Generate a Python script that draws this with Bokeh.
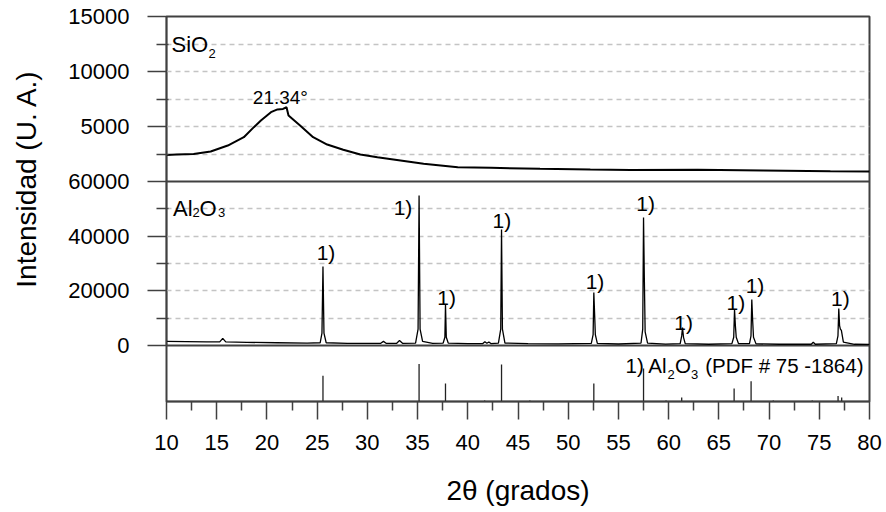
from bokeh.plotting import figure
from bokeh.layouts import row
from bokeh.models import Range1d, FixedTicker, Label
from bokeh.core.properties import value
from bokeh.embed import file_html
from bokeh.resources import INLINE

# ---------------- data ----------------
# SiO2 amorphous pattern (2theta, counts)
si_x = [10.0, 11.0, 12.7, 14.4, 16.1, 17.7, 18.7, 19.4, 20.4, 21.05, 21.6, 21.95,
        22.15, 23.3, 24.6, 26.0, 27.6, 29.3, 31.0, 33.3, 35.6, 39.0, 42.3, 47.2,
        52.2, 56.2, 62.9, 69.4, 76.1, 80.0]
si_y = [2400, 2450, 2500, 2730, 3270, 4030, 4940, 5550, 6300, 6550, 6600, 6750,
        6000, 5090, 4030, 3360, 2880, 2450, 2210, 1910, 1610, 1300, 1240, 1150,
        1090, 1050, 1060, 1000, 930, 910]

# Al2O3 crystalline pattern (2theta, counts)
al_x = [10.0, 12.0, 14.0, 15.3, 15.6, 15.9, 18.0, 21.0, 24.0,
        25.3, 25.48, 25.58, 25.68, 25.9, 28.0,
        31.3, 31.6, 31.9, 32.9, 33.2, 33.5,
        34.8, 35.05, 35.15, 35.25, 35.5, 36.5,
        37.55, 37.72, 37.78, 37.86, 38.05, 40.0,
        41.5, 41.7, 41.9, 42.1, 42.3,
        43.05, 43.28, 43.36, 43.45, 43.7, 46.0, 49.0,
        52.3, 52.48, 52.55, 52.64, 52.7, 52.9, 55.0,
        57.25, 57.42, 57.5, 57.58, 57.66, 57.9, 59.7,
        61.15, 61.3, 61.38, 61.48, 61.65, 64.0,
        66.3, 66.48, 66.56, 66.65, 66.73, 66.95,
        68.05, 68.2, 68.28, 68.37, 68.45, 68.7, 71.0,
        74.2, 74.4, 74.6,
        76.7, 76.86, 76.94, 77.02, 77.1, 77.2, 77.4, 78.5, 80.0]
al_y = [1500, 1400, 1300, 1300, 2600, 1300, 1150, 1000, 900,
        1000, 4500, 28900, 4500, 1000, 800,
        750, 1500, 750, 750, 1800, 800,
        900, 6000, 54900, 6000, 1500, 800,
        900, 3000, 15000, 3000, 900, 700,
        700, 1400, 800, 1300, 700,
        900, 6000, 42400, 6000, 900, 650, 600,
        800, 4000, 19400, 10400, 4000, 800, 550,
        900, 6000, 46800, 24500, 5000, 900, 500,
        700, 3500, 6600, 3000, 700, 450,
        700, 3000, 13200, 7000, 3000, 700,
        700, 3500, 16800, 8800, 3000, 600, 450,
        450, 1200, 450,
        700, 3500, 13500, 7300, 6000, 5500, 1200, 450, 400]

# Reference pattern Al2O3 (PDF # 75-1864): positions and relative intensities
ref_x = [25.58, 35.15, 37.78, 41.68, 43.36, 46.18, 52.55, 57.50, 59.74, 61.30,
         66.52, 68.21, 70.42, 74.30, 76.87, 77.23]
ref_h = [46, 67, 32, 2, 66, 2, 32, 59, 2, 7, 23, 36, 2, 2, 10, 7]

# peak markers "1)" on the Al2O3 pattern
mark_x = [25.88, 33.55, 37.90, 43.40, 52.67, 57.70, 61.50, 66.70, 68.60, 77.10]
mark_y = [34000, 50500, 17700, 45700, 23500, 52000, 8500, 15800, 22000, 17200]
mark_text = ["1)"] * len(mark_x)

sio2_peak_x = [21.34]
sio2_peak_y = [7640]
sio2_peak_text = ["21.34°"]

x_ticks = [10, 15, 20, 25, 30, 35, 40, 45, 50, 55, 60, 65, 70, 75, 80]
x_minor = [12.5, 17.5, 22.5, 27.5, 32.5, 37.5, 42.5, 47.5, 52.5, 57.5, 62.5,
           67.5, 72.5, 77.5]
sio2_ticks = [5000, 10000, 15000]
sio2_minor = [2500, 7500, 12500]
al_ticks = [0, 20000, 40000, 60000]
al_minor = [10000, 30000, 50000]
sio2_grid = [2500, 5000, 7500, 10000, 12500]
al_grid = [10000, 20000, 30000, 40000, 50000]

# ---------------- layout ----------------
FONT = "Liberation Sans"
FRAME_C = "#404040"
TITLE_W = 50
H_TOP, H_MID, H_REF = 165, 164, 56          # pixel heights of the three panels
FRAME_H = H_TOP + H_MID + H_REF
TITLE_H = 16 + FRAME_H
TITLE_Y = TITLE_H - 234                     # title centre in the strip's units

al_per_px = 60000 / H_MID
si_per_px = 15000 / H_TOP


def si_to_al(v):
    """position of a SiO2-panel value on the (shared) left axis scale"""
    return 60000 + v * (al_per_px / si_per_px)


AL_TOP = si_to_al(15000)
al_range = Range1d(0 - H_REF * al_per_px, AL_TOP)
si_range = Range1d(0 - (H_REF + H_MID) * si_per_px, 15000)
ref_range = Range1d(0, FRAME_H * 100 / H_REF)

p = figure(frame_width=703, frame_height=FRAME_H,
           x_range=Range1d(10, 80), y_range=al_range,
           output_backend="svg", toolbar_location=None,
           min_border_left=166 - TITLE_W, min_border_right=16,
           min_border_top=16, min_border_bottom=0)
p.extra_y_ranges = {"sio2": si_range, "ref": ref_range}
p.xgrid.visible = False
p.ygrid.visible = False
p.outline_line_color = FRAME_C
p.outline_line_width = 2
p.background_fill_color = "white"
p.border_fill_color = "white"

# grid lines (dashed)
p.hspan(y=sio2_grid, y_range_name="sio2", line_color="#c4c4c4",
        line_width=1.5, line_dash="5 4")
p.hspan(y=al_grid, line_color="#c4c4c4", line_width=1.5, line_dash="5 4")

# panel separators
p.hspan(y=[0], y_range_name="sio2", line_color=FRAME_C, line_width=2)
p.hspan(y=[0], line_color=FRAME_C, line_width=2)

# data
p.line(si_x, si_y, y_range_name="sio2", line_color="black", line_width=2)
p.line(al_x, al_y, line_color="black", line_width=1.3)
p.segment(x0=ref_x, y0=0, x1=ref_x, y1=ref_h, y_range_name="ref",
          line_color="#222222", line_width=1.3)

p.text(x=mark_x, y=mark_y, text=mark_text, text_font=value(FONT),
       text_font_size="21px", text_align="center", text_baseline="alphabetic",
       text_color="black")
p.text(x=sio2_peak_x, y=sio2_peak_y, text=sio2_peak_text, y_range_name="sio2",
       text_font=value(FONT), text_font_size="19px", text_align="center",
       text_baseline="alphabetic", text_color="black")


def style_axis(ax, size="22px"):
    ax.major_label_text_font = FONT
    ax.major_label_text_font_size = size
    ax.major_label_text_color = "black"
    ax.axis_line_color = FRAME_C
    ax.axis_line_width = 1.5
    ax.major_tick_line_color = FRAME_C
    ax.minor_tick_line_color = FRAME_C
    ax.major_tick_line_width = 1.5
    ax.minor_tick_line_width = 1.5
    ax.axis_label_text_font = FONT
    ax.axis_label_text_font_size = "28px"
    ax.axis_label_text_font_style = "normal"
    ax.axis_label_text_color = "black"


# x axis
xa = p.xaxis[0]
xa.ticker = FixedTicker(ticks=x_ticks, minor_ticks=x_minor)
style_axis(xa)
xa.major_tick_in = 0
xa.major_tick_out = 18
xa.minor_tick_in = 0
xa.minor_tick_out = 9
xa.major_label_standoff = 15
xa.axis_label = "2θ (grados)"
xa.axis_label_standoff = 22

# one left axis carrying both upper panels' scales
ya = p.yaxis[0]
y_major = al_ticks + [si_to_al(v) for v in sio2_ticks]
y_minor = al_minor + [si_to_al(v) for v in sio2_minor]
overrides = {float(v): str(v) for v in al_ticks}
overrides.update({si_to_al(v): str(v) for v in sio2_ticks})
ya.ticker = FixedTicker(ticks=y_major, minor_ticks=y_minor)
ya.major_label_overrides = overrides
ya.bounds = (0, AL_TOP)
style_axis(ya)
ya.major_tick_in = 0
ya.major_tick_out = 19
ya.minor_tick_in = 2
ya.minor_tick_out = 10
ya.major_label_standoff = 18


def lab(text, sx, sy, size, **kw):
    p.add_layout(Label(x=sx, y=sy, x_units="screen", y_units="screen",
                       text=text, text_font=FONT, text_font_size=size,
                       text_color="black", text_baseline="alphabetic", **kw))


# panel names
lab("SiO", 5, 357.5, "22px")
lab("2", 42, 348.5, "13px")
lab("Al", 6.5, 193.5, "22px")
lab("2", 26, 189.5, "13px")
lab("O", 33, 193.5, "22px")
lab("3", 51.5, 189.5, "13px")

# reference legend
lab("1) Al", 459, 36, "20.5px")
lab("2", 501, 27, "13px")
lab("O", 508.5, 36, "20.5px")
lab("3", 524.5, 27, "13px")
lab("(PDF # 75 -1864)", 697, 36, "20.5px", text_align="right")

# y title, in its own narrow strip left of the chart
t = figure(width=TITLE_W, height=TITLE_H, x_range=Range1d(0, TITLE_W),
           y_range=Range1d(0, TITLE_H), output_backend="svg",
           toolbar_location=None, x_axis_location=None, y_axis_location=None,
           min_border=0)
t.outline_line_color = None
t.grid.visible = False
t.text(x=[26], y=[TITLE_Y], text=["Intensidad (U. A.)"],
       angle=90, angle_units="deg", text_font=value(FONT),
       text_font_size="28px", text_align="center", text_baseline="middle",
       text_color="black")

layout = row(t, p)
open("out.html", "w").write(file_html(layout, INLINE))
